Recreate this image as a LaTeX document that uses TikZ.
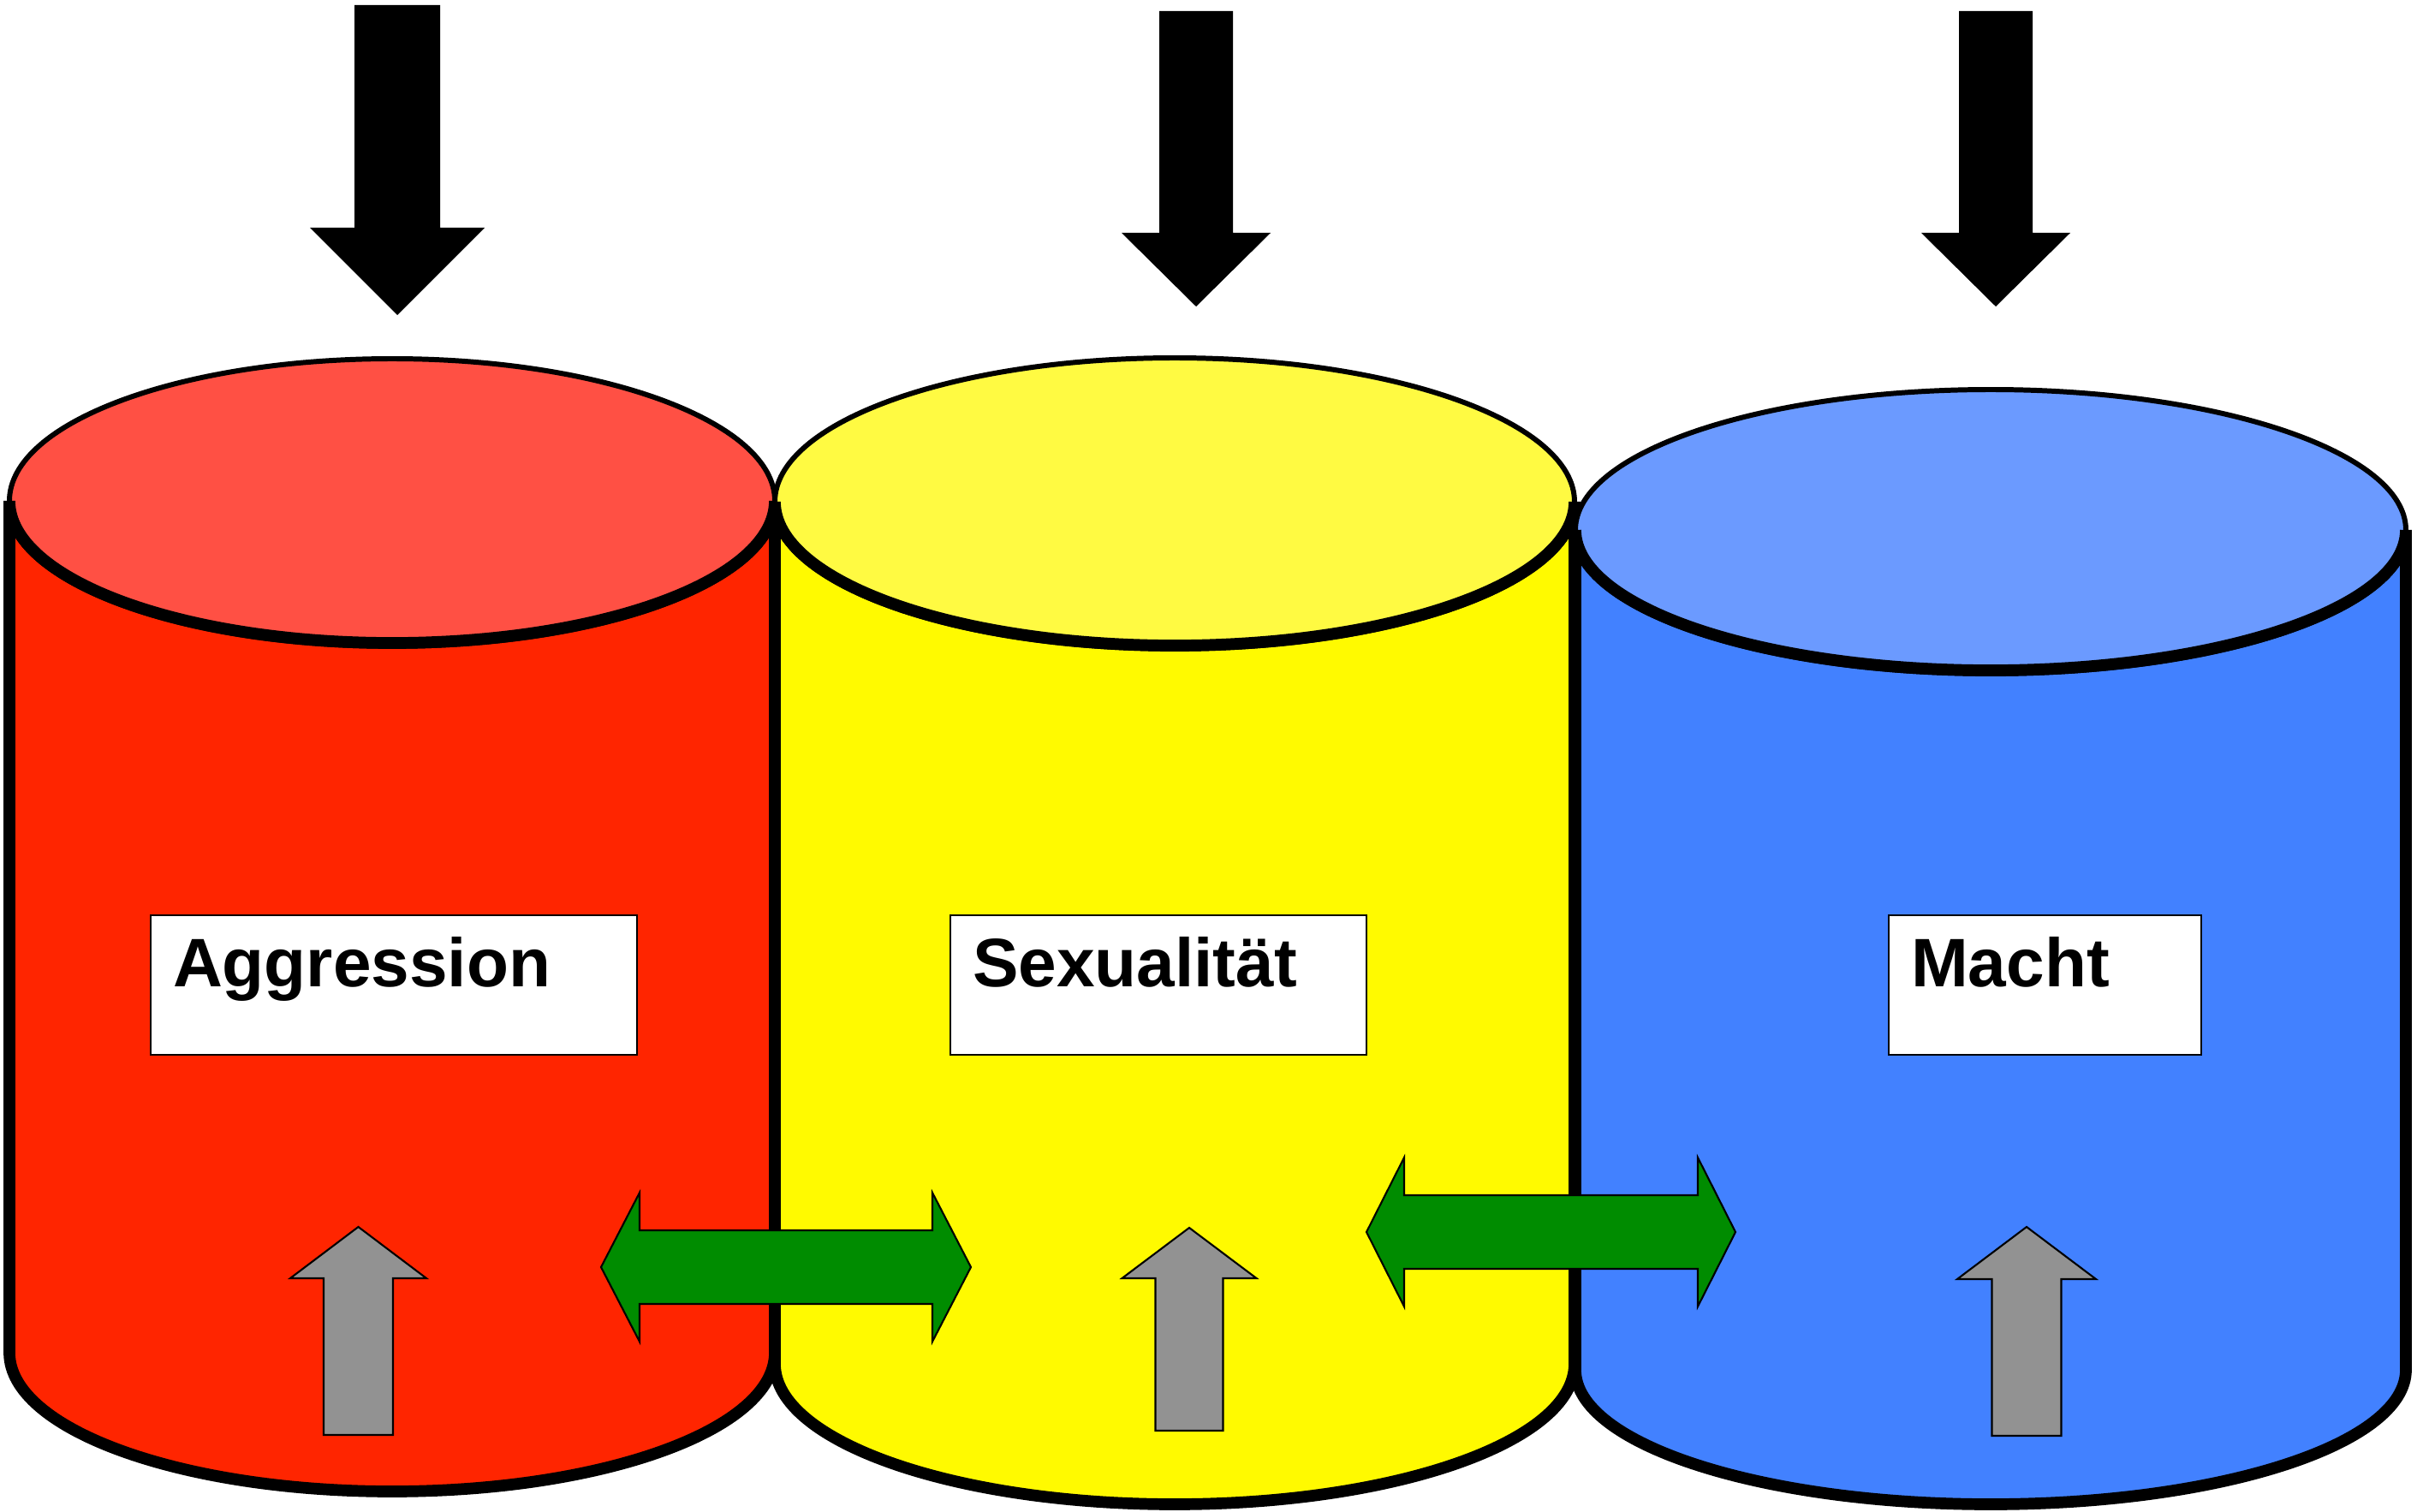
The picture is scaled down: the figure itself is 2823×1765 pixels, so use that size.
\documentclass[tikz,border=0pt]{standalone}
\usepackage{fontspec}
\setmainfont{Liberation Sans}
\usetikzlibrary{positioning}
\definecolor{cylred}{RGB}{255,37,0}
\definecolor{lidred}{RGB}{255,80,68}
\definecolor{cylyellow}{RGB}{255,250,0}
\definecolor{lidyellow}{RGB}{255,250,66}
\definecolor{cylblue}{RGB}{66,129,255}
\definecolor{lidblue}{RGB}{107,154,255}
\definecolor{arrowgreen}{RGB}{0,140,0}
\definecolor{arrowgray}{RGB}{146,146,146}
\tikzset{
    x=0.01cm, y=0.01cm, % one unit is one pixel of the original picture
    body/.style={draw=black, line width=3.9pt}, % outline of each barrel
    lid/.style={draw=black, line width=1.7pt}, % outline of the top ellipse
    block/.style={draw=black, line width=0.6pt}, % thin outline of the block arrows
    drive/.style={fill=black}, % the black arrows on top
    labelbox/.style={draw=black, line width=0.6pt, fill=white, anchor=north west, align=left,
        inner xsep=0.26cm, inner ysep=0pt, text height=0.83cm, text depth=0.80cm,
        font=\bfseries\fontsize{22.8}{27}\selectfont}, % the white boxes with the names
}
\begin{document}
\begin{tikzpicture}
    \useasboundingbox (0,0) rectangle (2823,1765);

    \foreach \cx/\rx/\ty/\by/\ry/\rb/\cyl/\lid in {458/447/1180/185/166/162/cylred/lidred,
        1372/467/1179/172/168/164/cylyellow/lidyellow, 2325/485/1146/165/164/157/cylblue/lidblue}{
        \filldraw[body, fill=\cyl] (\cx-\rx,\ty) -- (\cx-\rx,\by)
            arc[start angle=180, end angle=360, x radius=\rx, y radius=\rb] -- (\cx+\rx,\ty)
            arc[start angle=0, end angle=-180, x radius=\rx, y radius=\ry] -- cycle;
        \filldraw[lid, fill=\lid] (\cx,\ty) ellipse[x radius=\rx, y radius=\ry];
        \draw[body] (\cx+\rx,\ty) arc[start angle=0, end angle=-180, x radius=\rx, y radius=\ry];
    }

    \foreach \xl/\xlb/\xrb/\xr/\ym in {702/747/1089/1134/285, 1596/1640/1983/2027/326}{
        \filldraw[block, fill=arrowgreen] (\xl,\ym) -- (\xlb,\ym+87) -- (\xlb,\ym+43) -- (\xrb,\ym+43)
            -- (\xrb,\ym+87) -- (\xr,\ym) -- (\xrb,\ym-87) -- (\xrb,\ym-43) -- (\xlb,\ym-43)
            -- (\xlb,\ym-87) -- cycle;
    }

    \foreach \ax/\sw/\hw/\bot/\hd/\tip in {418.5/40.5/79.5/89/272/332,
        1389/39.5/78.5/94/272/331, 2367/40.5/81/88/271/332}{
        \filldraw[block, fill=arrowgray] (\ax-\sw,\bot) -- (\ax+\sw,\bot) -- (\ax+\sw,\hd)
            -- (\ax+\hw,\hd) -- (\ax,\tip) -- (\ax-\hw,\hd) -- (\ax-\sw,\hd) -- cycle;
    }

    \node[labelbox, text width=5.16cm] (aggression) at (175,697) {Aggression};
    \node[labelbox, text width=4.34cm] (sexualitaet) at (1109,697) {Sexualität};
    \node[labelbox, text width=3.13cm] (macht) at (2205,697) {Macht};

    \foreach \ax/\sw/\hw/\top/\hd/\tip in {464/50/102/1759/1499/1397,
        1397/43/87/1752/1493/1407, 2331/43/87/1752/1493/1407}{
        \fill[drive] (\ax-\sw,\top) -- (\ax+\sw,\top) -- (\ax+\sw,\hd) -- (\ax+\hw,\hd)
            -- (\ax,\tip) -- (\ax-\hw,\hd) -- (\ax-\sw,\hd) -- cycle;
    }
\end{tikzpicture}
\end{document}
